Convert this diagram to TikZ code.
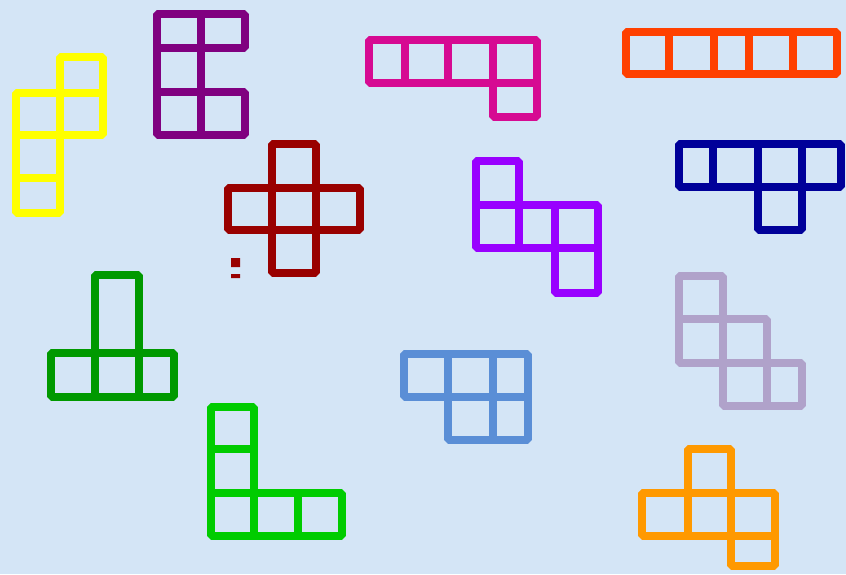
\documentclass[tikz,border=0pt]{standalone}
\usepackage{xcolor}
\usepackage{tikz}
\definecolor{PaperBlue}{RGB}{212,229,246}
\definecolor{PieceYellow}{RGB}{255,255,0}
\definecolor{PiecePurple}{RGB}{128,0,128}
\definecolor{PiecePink}{RGB}{214,10,146}
\definecolor{PieceRed}{RGB}{255,64,0}
\definecolor{PieceDarkRed}{RGB}{153,0,0}
\definecolor{PieceViolet}{RGB}{153,0,255}
\definecolor{PieceNavy}{RGB}{0,0,153}
\definecolor{PieceGreen}{RGB}{0,153,0}
\definecolor{PieceLime}{RGB}{0,204,0}
\definecolor{PieceBlue}{RGB}{90,142,214}
\definecolor{PieceLilac}{RGB}{176,162,202}
\definecolor{PieceOrange}{RGB}{255,153,0}

\begin{document}
\begin{tikzpicture}[
  x=1pt, y=-1pt,
  piece/.style={draw=#1,line width=7.5pt,line join=bevel},
  speck/.style={fill=#1,draw=none}
]
\useasboundingbox (0,0) rectangle (846,574);
\fill[PaperBlue] (0,0) rectangle (846,574);

\draw[piece=PieceYellow] (60,57) rectangle (103,93) (16,93) rectangle (60,135) (60,93) rectangle (103,135) (16,135) rectangle (60,178) (16,178) rectangle (60,213);

\draw[piece=PiecePurple] (157,14) rectangle (201,48) (201,14) rectangle (245,48) (157,48) rectangle (201,92) (157,92) rectangle (201,135) (201,92) rectangle (245,135);

\draw[piece=PiecePink] (369,40) rectangle (405,83) (405,40) rectangle (448,83) (448,40) rectangle (493,83) (493,40) rectangle (537,83) (493,83) rectangle (537,117);

\draw[piece=PieceRed] (626,32) rectangle (669,74) (669,32) rectangle (714,74) (714,32) rectangle (749,74) (749,32) rectangle (793,74) (793,32) rectangle (837,74);

\draw[piece=PieceDarkRed] (272,144) rectangle (316,188) (228,188) rectangle (272,230) (272,188) rectangle (316,230) (316,188) rectangle (360,230) (272,230) rectangle (316,273);
\fill[speck=PieceDarkRed] (231,258) rectangle (240,267) (231,274) rectangle (240,278);

\draw[piece=PieceViolet] (476,161) rectangle (519,205) (476,205) rectangle (519,248) (519,205) rectangle (555,248) (555,205) rectangle (598,248) (555,248) rectangle (598,293);

\draw[piece=PieceNavy] (679,144) rectangle (713,187) (713,144) rectangle (758,187) (758,144) rectangle (802,187) (802,144) rectangle (841,187) (758,187) rectangle (802,230);

\draw[piece=PieceGreen] (95,275) rectangle (139,353) (51,353) rectangle (95,397) (95,353) rectangle (139,397) (139,353) rectangle (174,397);

\draw[piece=PieceLime] (211,407) rectangle (254,449) (211,449) rectangle (254,493) (211,493) rectangle (254,536) (254,493) rectangle (298,536) (298,493) rectangle (342,536);

\draw[piece=PieceBlue] (404,354) rectangle (448,397) (448,354) rectangle (493,397) (493,354) rectangle (528,397) (448,397) rectangle (493,440) (493,397) rectangle (528,440);

\draw[piece=PieceLilac] (679,276) rectangle (723,319) (679,319) rectangle (723,363) (723,319) rectangle (767,363) (723,363) rectangle (767,406) (767,363) rectangle (802,406);

\draw[piece=PieceOrange] (688,449) rectangle (731,493) (642,493) rectangle (688,536) (688,493) rectangle (731,536) (731,493) rectangle (775,536) (731,536) rectangle (775,566);
\end{tikzpicture}
\end{document}
